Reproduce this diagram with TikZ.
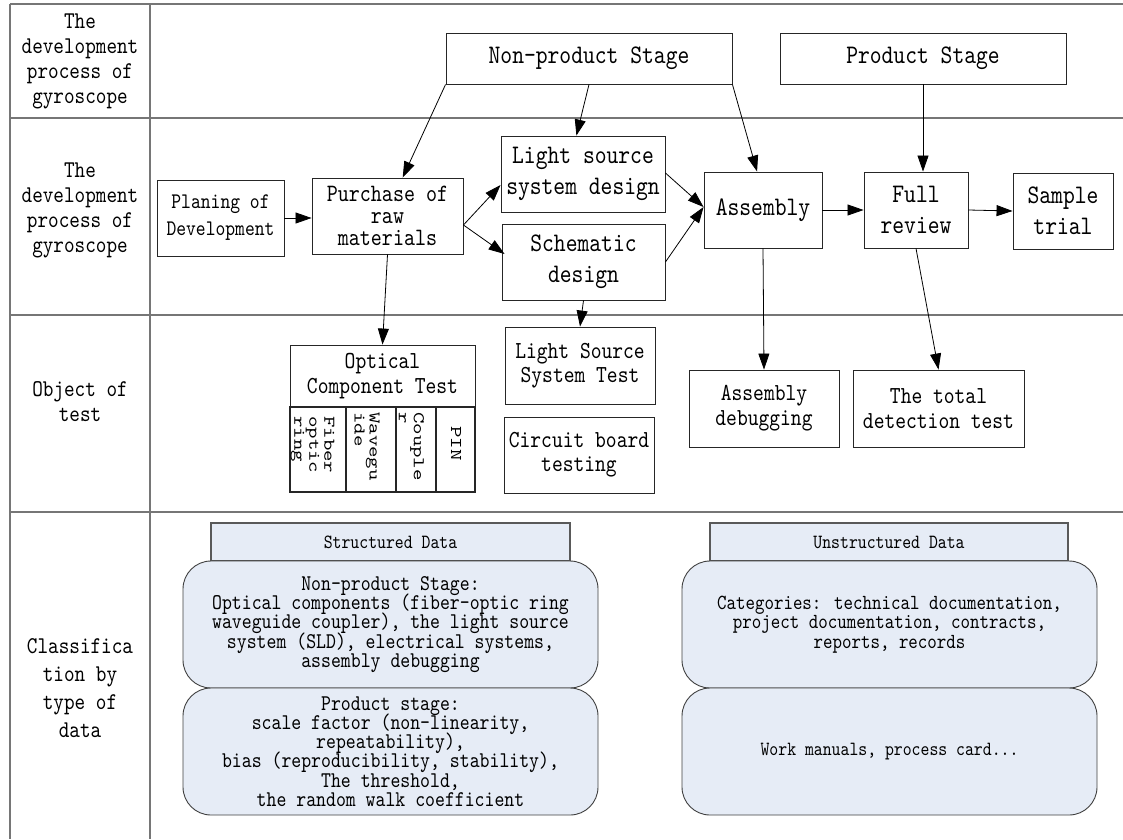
\documentclass[tikz,border=0pt]{standalone}
\usepackage{fontspec}
\setmainfont{lmmono10-regular.otf}[Scale=1.05,FakeStretch=0.84]
\newfontfamily\cellfont{lmmono10-regular.otf}[Scale=1.05,FakeStretch=1.33]
\usetikzlibrary{arrows.meta,calc}
\setlength{\lineskiplimit}{-100pt}
\newcommand\fsz[2]{\fontsize{#1}{#2}\selectfont}
\definecolor{rulegray}{RGB}{118,118,118}
\definecolor{datafill}{RGB}{230,236,246}
\begin{document}
\begin{tikzpicture}[x=1pt,y=-1pt,
  grid/.style={draw=rulegray,line width=1.5pt},
  lbl/.style={align=center,inner sep=0pt,font=\fsz{22.9}{25}},
  box/.style={draw=black!85,line width=0.9pt,fill=white,align=center,inner sep=0pt},
  flow/.style={box,font=\fsz{25.5}{31}},
  testbox/.style={box,font=\fsz{23.3}{24}},
  cell/.style={draw=black!85,line width=1.2pt,inner sep=0pt},
  celltext/.style={rotate=-90,anchor=west,align=left,inner sep=0pt,font={\cellfont\fontsize{15.6}{15}\selectfont}},
  arr/.style={-{Triangle[length=16pt,width=11pt]},line width=0.8pt,black},
  tab/.style={draw=black!65,line width=1.2pt,fill=datafill,inner sep=0pt,font=\fsz{19.2}{22}},
  databox/.style={draw=black!75,line width=0.9pt,fill=datafill,rounded corners=28pt,align=center,inner sep=0pt,
    minimum width=415,minimum height=127}]
\useasboundingbox (0,0) rectangle (1123,839);

% table frame
\draw[grid] (10,4) -- (1123,4);
\foreach \yy in {118,315,512} \draw[grid] (10,\yy) -- (1123,\yy);
\draw[grid] (10,4) -- (10,839);
\draw[grid] (150,4) -- (150,839);

% row headings
\node[lbl] (h1) at (80,61) {The\\development\\process of\\gyroscope};
\node[lbl] (h2) at (80,210) {The\\development\\process of\\gyroscope};
\node[lbl] (h3) at (80,402) {Object of\\test};
\node[lbl,font=\fsz{22.9}{28}] (h4) at (80,688) {Classifica\\tion by\\type of\\data};

% stages
\node[flow,minimum width=286,minimum height=51] (nps) at (589,58.5) {Non-product Stage};
\node[flow,minimum width=286,minimum height=51] (ps) at (923,58.5) {Product Stage};

% development process
\node[box,font=\fsz{21.2}{27},minimum width=127,minimum height=76] (plan) at (220.5,218) {Planing of\\Development};
\node[box,font=\fsz{23.8}{22},minimum width=151,minimum height=76] (pur) at (387.5,216) {Purchase of\\raw\\materials};
\node[flow,minimum width=164,minimum height=76] (ls) at (583,174) {Light source\\system design};
\node[flow,minimum width=163,minimum height=76] (sch) at (583.5,262) {Schematic\\design};
\node[flow,minimum width=118,minimum height=76] (asm) at (763,210) {Assembly};
\node[flow,minimum width=104,minimum height=76] (fr) at (916,210) {Full\\review};
\node[flow,minimum width=100,minimum height=76] (st) at (1063,211) {Sample\\trial};

% objects of test
\node[testbox,font=\fsz{23.3}{25},minimum width=185,minimum height=62] (oct) at (382.5,376) {Optical\\Component Test};
\node[cell,minimum width=56,minimum height=85] (c1) at (318,449.5) {};
\node[cell,minimum width=50,minimum height=85] (c2) at (371,449.5) {};
\node[cell,minimum width=40,minimum height=85] (c3) at (416,449.5) {};
\node[cell,minimum width=39,minimum height=85] (c4) at (455.5,449.5) {};
\node[celltext] (t1) at (312.5,416) {Fiber\\optic\\ring};
\node[celltext] (t2) at (367,412) {Wavegu\\ide};
\node[celltext] (t3) at (411.5,412) {Couple\\r};
\node[celltext] (t4) at (456,426) {PIN};
\node[testbox,minimum width=150,minimum height=77] (lsst) at (580,365.5) {Light Source\\System Test};
\node[testbox,minimum width=150,minimum height=76] (cbt) at (579,455) {Circuit board\\testing};
\node[testbox,font=\fsz{23.3}{25},minimum width=150,minimum height=77] (adbg) at (764,408.5) {Assembly\\debugging};
\node[testbox,font=\fsz{23.3}{25},minimum width=171,minimum height=77] (tdt) at (938.5,408.5) {The total\\detection test};

% connectors
\draw[arr] (plan.east) -- (plan.east -| pur.west);
\draw[arr] (nps.south west) -- ($(pur.north west)!0.6!(pur.north east)$);
\draw[arr] (nps.south) -- ($(ls.north west)!0.46!(ls.north east)$);
\draw[arr] (nps.south east) -- ($(asm.north west)!0.45!(asm.north east)$);
\draw[arr] (ps.south) -- (ps.south |- fr.north);
\draw[arr] ($(pur.east)+(0,9)$) -- ($(ls.west)+(0,11)$);
\draw[arr] ($(pur.east)+(0,9)$) -- ($(sch.west)+(3,-8)$);
\draw[arr] ($(ls.east)+(0,-1)$) -- ($(asm.west)+(0,-3)$);
\draw[arr] (sch.east) -- ($(asm.west)+(0,-3)$);
\draw[arr] (asm.east) -- (asm.east -| fr.west);
\draw[arr] (fr.east) -- (st.west);
\draw[arr] (pur.south) -- (oct.north);
\draw[arr] (sch.south) -- (lsst.north);
\draw[arr] (asm.south) -- (adbg.north);
\draw[arr] (fr.south) -- (tdt.north);

% classification by type of data
\node[tab,minimum width=359,minimum height=38] (sdt) at (390.5,542) {Structured Data};
\node[databox,font=\fsz{21.4}{19.3}] (sd1) at (390.5,624.5)
  {Non-product Stage:\\Optical components (fiber-optic ring\\waveguide coupler), the light source\\system (SLD), electrical systems,\\assembly debugging};
\node[databox,font=\fsz{21.4}{19.3}] (sd2) at (390.5,751.5)
  {Product stage:\\scale factor (non-linearity,\\repeatability),\\bias (reproducibility, stability),\\The threshold,\\the random walk coefficient};
\node[tab,minimum width=358,minimum height=38] (udt) at (889,542) {Unstructured Data};
\node[databox,font=\fsz{20.5}{19.3}] (ud1) at (889.5,624.5)
  {Categories: technical documentation,\\project documentation, contracts,\\reports, records};
\node[databox,font=\fsz{19.2}{22}] (ud2) at (889.5,751.5) {Work manuals, process card...};
\end{tikzpicture}
\end{document}
